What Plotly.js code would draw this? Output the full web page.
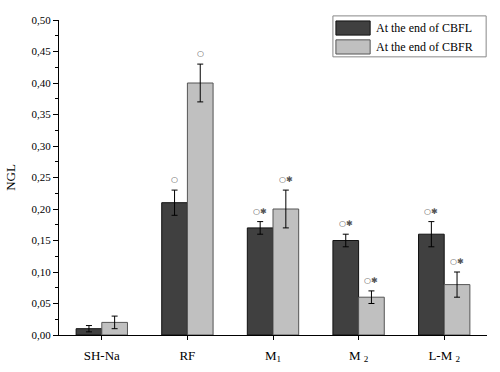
<!DOCTYPE html>
<html><head><meta charset="utf-8">
<script src="https://cdn.plot.ly/plotly-3.0.1.min.js"></script>
<style>body{margin:0;background:#fff}#c{width:500px;height:372px}</style>
</head><body><div id="c"></div>
<script>
const categories = ["SH-Na", "RF", "M<sub>1</sub>", "M <sub>2</sub>", "L-M <sub>2</sub>"];
const seriesNames = ["At the end of CBFL", "At the end of CBFR"];
const cbflValues = [0.01, 0.21, 0.17, 0.15, 0.16];
const cbflErrors = [0.005, 0.02, 0.01, 0.01, 0.02];
const cbfrValues = [0.02, 0.40, 0.20, 0.06, 0.08];
const cbfrErrors = [0.01, 0.03, 0.03, 0.01, 0.02];
const cbflMarks = ["", "○", "○✱", "○✱", "○✱"];
const cbfrMarks = ["", "○", "○✱", "○✱", "○✱"];
const yTicks = [0, 0.05, 0.10, 0.15, 0.20, 0.25, 0.30, 0.35, 0.40, 0.45, 0.50];

const serif = '"Liberation Serif", serif';
const font = {family: serif, color: "#000", size: 11};
const idx = categories.map((c, i) => i);
const fills = ["#404040", "#c0c0c0"];
const outlines = ["#111", "#555"];

const traces = [
  {type: "bar", name: seriesNames[0], x: idx, y: cbflValues,
   marker: {color: fills[0], line: {color: outlines[0], width: 1}},
   error_y: {type: "data", array: cbflErrors, visible: true, color: "#000", thickness: 1, width: 3}},
  {type: "bar", name: seriesNames[1], x: idx, y: cbfrValues,
   marker: {color: fills[1], line: {color: outlines[1], width: 1}},
   error_y: {type: "data", array: cbfrErrors, visible: true, color: "#000", thickness: 1, width: 3}}
];

const off = 0.15;
const markFont = {family: "DejaVu Sans", size: 8, color: "#555"};
const annotations = [];
idx.forEach(i => {
  if (cbflMarks[i]) annotations.push({x: i - off, y: cbflValues[i] + cbflErrors[i], xref: "x", yref: "y",
    text: cbflMarks[i], showarrow: false, yanchor: "bottom", yshift: 4, font: markFont});
  if (cbfrMarks[i]) annotations.push({x: i + off, y: cbfrValues[i] + cbfrErrors[i], xref: "x", yref: "y",
    text: cbfrMarks[i], showarrow: false, yanchor: "bottom", yshift: 4, font: markFont});
});

// custom legend (large swatches like the reference)
const shapes = [
  {type: "rect", xref: "paper", yref: "paper", x0: 0.640, x1: 0.998, y0: 0.883, y1: 1.013,
   fillcolor: "#fff", line: {color: "#888", width: 1}, layer: "above"}
];
const swY = [[0.952, 0.997], [0.892, 0.937]];
seriesNames.forEach((n, k) => {
  shapes.push({type: "rect", xref: "paper", yref: "paper", x0: 0.647, x1: 0.727, y0: swY[k][0], y1: swY[k][1],
    fillcolor: fills[k], line: {color: outlines[k], width: 1}, layer: "above"});
  annotations.push({xref: "paper", yref: "paper", x: 0.736, y: (swY[k][0] + swY[k][1]) / 2,
    xanchor: "left", yanchor: "middle", showarrow: false, text: n,
    font: {family: serif, size: 12, color: "#000"}});
});

const layout = {
  width: 500, height: 372,
  margin: {l: 59, r: 13, t: 20, b: 37},
  paper_bgcolor: "#fff", plot_bgcolor: "#fff",
  font: font,
  separators: ", ",
  barmode: "group", bargap: 0.4, bargroupgap: 0,
  showlegend: false,
  xaxis: {range: [-0.5, 4.5], tickmode: "array", tickvals: idx, ticktext: categories,
    ticks: "outside", tickson: "boundaries", ticklen: 4, tickcolor: "#000", ticklabelstandoff: 4,
    showline: true, linecolor: "#000", linewidth: 1, showgrid: false, zeroline: false,
    tickfont: {family: serif, size: 13, color: "#000"}, fixedrange: true},
  yaxis: {range: [0, 0.5], tickmode: "array", tickvals: yTicks, tickformat: ".2f",
    ticks: "outside", ticklen: 5, tickcolor: "#000",
    minor: {dtick: 0.025, ticks: "outside", ticklen: 3, tickcolor: "#000", showgrid: false},
    showline: true, linecolor: "#000", linewidth: 1, showgrid: false, zeroline: false,
    title: {text: "NGL", font: {family: serif, size: 13, color: "#000"}, standoff: 12},
    tickfont: {family: serif, size: 11, color: "#000"}, fixedrange: true},
  shapes: shapes,
  annotations: annotations
};

Plotly.newPlot("c", traces, layout, {displayModeBar: false, staticPlot: true});
</script></body></html>
